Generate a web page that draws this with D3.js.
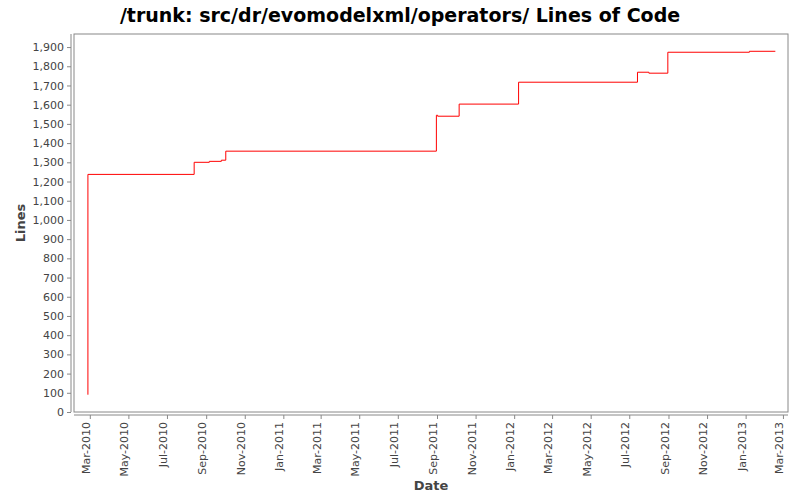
<!DOCTYPE html>
<html><head><meta charset="utf-8">
<script src="https://cdn.jsdelivr.net/npm/d3@7"></script>
<style>body{margin:0;background:#fff}</style></head>
<body><svg width="800" height="500"></svg>
<script>
const dates = ["2010-02-26","2010-02-26","2010-08-13","2010-09-06","2010-09-25","2010-10-02","2011-08-31","2011-09-02","2011-10-06","2012-01-08","2012-07-14","2012-08-01","2012-08-31","2013-01-07","2013-02-17"];
const lines = [90,1237,1300,1305,1311,1358,1545,1540,1603,1717,1769,1764,1873,1878,1878];
const yTicks = d3.range(0,2000,100);

const svg = d3.select("svg");
const L=74,R=788,T=34,B=412;
const parse=d3.utcParse("%Y-%m-%d");
const data=dates.map((d,i)=>({d:parse(d),v:lines[i]}));
const x=d3.scaleUtc().domain([parse("2010-02-04"),parse("2013-03-09")]).range([L,R]);
const y=d3.scaleLinear().domain([0,1968]).range([B,T]);

svg.append("rect").attr("x",L).attr("y",T).attr("width",R-L).attr("height",B-T).attr("fill","#fff").attr("stroke","#888");

const ya=svg.append("g").attr("transform",`translate(${L-3},0)`)
 .call(d3.axisLeft(y).tickValues(yTicks).tickFormat(d3.format(",")).tickSize(4));
const xa=svg.append("g").attr("transform",`translate(0,${B+3})`)
 .call(d3.axisBottom(x).ticks(d3.utcMonth.every(2)).tickFormat(d3.utcFormat("%b-%Y")).tickSize(4));
[ya,xa].forEach(g=>{g.selectAll("path,line").attr("stroke","#888");
 g.selectAll("text").attr("fill","#444").style("font-family","DejaVu Sans").style("font-size","11px");});
ya.select(".domain").attr("d",`M-4,${B}H0V${T}H-4`).attr("d",`M0,${B}V${T}`);
xa.select(".domain").attr("d",`M${L},0H${R}`);
xa.selectAll("text").attr("transform","rotate(-90)").attr("text-anchor","end").attr("x",-7).attr("y",-4).attr("dy","0.32em");

svg.append("path").datum(data).attr("fill","none").attr("stroke","red").attr("stroke-width",1)
 .attr("d",d3.line().curve(d3.curveStepAfter).x(d=>x(d.d)).y(d=>y(d.v)));

svg.append("text").attr("x",400).attr("y",22).attr("text-anchor","middle").attr("font-family","DejaVu Sans").attr("font-weight","bold").attr("font-size","19px").attr("fill","#000").text("/trunk: src/dr/evomodelxml/operators/ Lines of Code");
svg.append("text").attr("x",431).attr("y",490).attr("text-anchor","middle").attr("font-family","DejaVu Sans").attr("font-weight","bold").attr("font-size","13px").attr("fill","#444").text("Date");
svg.append("text").attr("transform","translate(25,223) rotate(-90)").attr("text-anchor","middle").attr("font-family","DejaVu Sans").attr("font-weight","bold").attr("font-size","13px").attr("fill","#444").text("Lines");
</script></body></html>
